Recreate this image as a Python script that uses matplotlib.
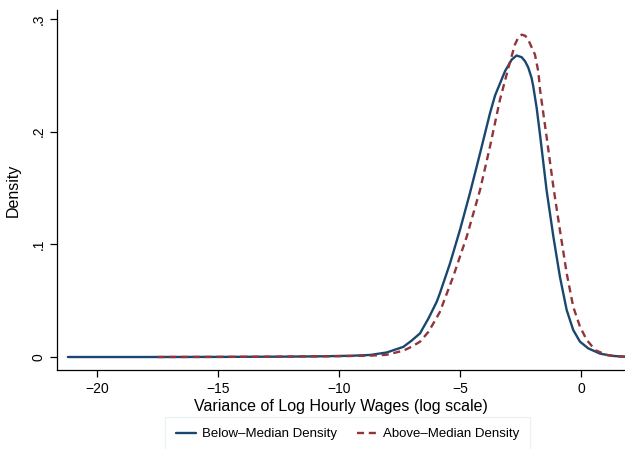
import matplotlib
matplotlib.use("Agg")
import matplotlib.pyplot as plt

plt.rcParams['font.family'] = ['Liberation Sans', 'DejaVu Sans']

below_x = [-21.2, -18, -15, -12.5, -10.8, -9.5, -8.72, -8.03, -7.34, -7.0, -6.65, -6.30, -5.96, -5.83,
           -5.41, -5.0, -4.59, -4.17, -3.76, -3.55, -3.14, -2.86, -2.66, -2.45, -2.31, -2.18, -2.04, -1.97,
           -1.83, -1.69, -1.42, -1.14, -0.87, -0.59, -0.32, -0.04, 0.30, 0.79, 1.3, 1.82]
below_y = [0.0, 0.0, 0.0001, 0.0003, 0.0006, 0.0011, 0.0018, 0.004, 0.009, 0.0145, 0.021, 0.0343, 0.049, 0.0565,
           0.0831, 0.1127, 0.1452, 0.1807, 0.2162, 0.232, 0.2535, 0.2639, 0.2675, 0.266, 0.2624, 0.257, 0.2476, 0.240,
           0.221, 0.197, 0.148, 0.1068, 0.0713, 0.0417, 0.024, 0.0136, 0.0077, 0.003, 0.001, 0.0003]

above_x = [-17.5, -15, -12.5, -10.8, -9.5, -8.72, -8.03, -7.34, -7.0, -6.65, -6.30, -5.96, -5.83, -5.28,
           -4.72, -4.17, -3.76, -3.35, -3.0, -2.73, -2.6, -2.45, -2.3, -2.18, -1.90, -1.76, -1.69, -1.42,
           -1.14, -0.87, -0.59, -0.32, -0.04, 0.24, 0.6, 1.06, 1.5, 1.82]
above_y = [0.0, 0.0001, 0.0003, 0.0006, 0.0009, 0.0012, 0.002, 0.0056, 0.0091, 0.0136, 0.0224, 0.035, 0.040, 0.0713,
           0.1068, 0.1482, 0.1866, 0.228, 0.2564, 0.2772, 0.283, 0.286, 0.285, 0.2816, 0.2683, 0.253, 0.237, 0.1955,
           0.151, 0.1127, 0.0743, 0.0446, 0.0269, 0.0151, 0.006, 0.0018, 0.0006, 0.0003]

xticks = [-20, -15, -10, -5, 0]
xticklabels = ['\u221220', '\u221215', '\u221210', '\u22125', '0']
yticks = [0, 0.1, 0.2, 0.3]
yticklabels = ['0', '.1', '.2', '.3']

blue = '#1a476f'
red = '#90353b'

fig = plt.figure(figsize=(6.25, 4.49), dpi=100)
ax = fig.add_axes([0.0912, 0.176, 0.9088, 0.802])

ax.plot(below_x, below_y, color=blue, lw=1.7, label='Below\u2013Median Density',
        solid_joinstyle='round', solid_capstyle='round')
ax.plot(above_x, above_y, color=red, lw=1.7, dashes=(3, 2), label='Above\u2013Median Density')

ax.set_xlim(-21.65, 1.82)
ax.set_ylim(-0.0115, 0.308)
ax.set_xticks(xticks)
ax.set_xticklabels(xticklabels)
ax.set_yticks(yticks)
ax.set_yticklabels(yticklabels, rotation=90, va='center')

for s in ['top', 'right']:
    ax.spines[s].set_visible(False)
for s in ['left', 'bottom']:
    ax.spines[s].set_color('black')
    ax.spines[s].set_linewidth(0.9)
ax.tick_params(axis='both', direction='out', length=5, width=0.9, labelsize=10, colors='black')
ax.tick_params(axis='y', pad=3)

ax.set_xlabel('Variance of Log Hourly Wages (log scale)', fontsize=11.5, labelpad=2)
ax.set_ylabel('Density', fontsize=11.5, labelpad=8)

leg = fig.legend(loc='lower center', bbox_to_anchor=(0.556, -0.02), ncol=2, frameon=True,
                 fontsize=9.5, fancybox=False, edgecolor='#e6eef2', handlelength=1.5,
                 handletextpad=0.45, columnspacing=1.5, borderpad=0.85)
leg.get_frame().set_linewidth(1.0)

fig.savefig('out.png', dpi=100)
